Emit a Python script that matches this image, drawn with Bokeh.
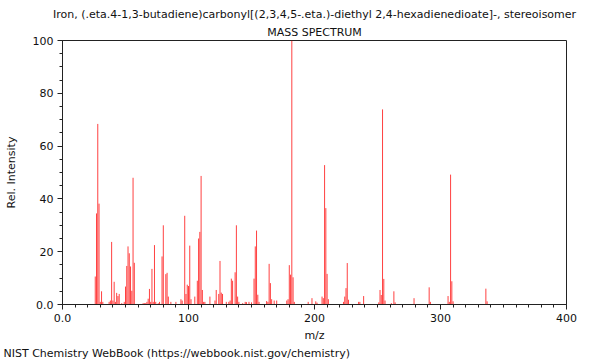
from bokeh.plotting import figure
from bokeh.models import Range1d, FixedTicker, Title
from bokeh.embed import file_html
from bokeh.resources import INLINE

mz = [26, 27, 28, 29, 30, 31, 32, 37, 38, 39, 40, 41, 42, 43, 44, 45, 47, 49, 50, 51,
      52, 53, 54, 55, 56, 57, 64, 65, 66, 67, 68, 69, 70, 71, 72, 73, 74, 76, 77, 79,
      80, 82, 83, 84, 86, 90, 94, 95, 97, 98, 99, 100, 101, 102, 105, 107, 108, 109, 110, 111,
      112, 113, 117, 121, 122, 124, 125, 126, 127, 130, 132, 133, 134, 135, 137, 138, 139, 140, 143, 145,
      146, 148, 150, 152, 153, 154, 155, 156, 162, 163, 164, 165, 166, 168, 170, 178, 179, 180, 181, 182,
      183, 184, 195, 198, 201, 202, 206, 207, 208, 209, 210, 211, 223, 224, 225, 226, 227, 235, 236, 239,
      251, 252, 253, 254, 255, 256, 261, 263, 264, 279, 291, 292, 306, 307, 308, 309, 310, 336, 337]
intensity = [10.6, 34.5, 68.4, 38.2, 1.0, 5.0, 1.0, 1.0, 1.5, 23.7, 1.5, 8.6, 1.0, 4.4, 3.2, 4.0, 0.5, 1.0, 6.8, 14.6,
             22.0, 19.4, 14.4, 5.2, 48.0, 15.8, 0.5, 0.5, 0.5, 1.0, 2.2, 5.9, 1.0, 13.5, 1.0, 22.5, 1.0, 0.5, 1.0, 18.2,
             30.0, 11.5, 12.0, 3.0, 1.0, 1.0, 2.0, 1.5, 33.6, 4.0, 7.5, 7.0, 22.3, 2.0, 3.0, 9.0, 25.0, 27.5, 48.7, 5.5,
             1.0, 1.0, 3.0, 1.5, 5.5, 4.0, 16.5, 4.5, 4.0, 1.0, 1.0, 1.5, 9.8, 9.0, 12.2, 30.0, 3.0, 1.0, 0.5, 1.0,
             0.9, 1.0, 0.8, 9.8, 22.0, 28.0, 3.7, 1.0, 1.3, 1.0, 15.4, 8.1, 2.0, 1.5, 1.5, 1.5, 2.0, 14.9, 11.3, 100.0,
             10.3, 1.0, 1.0, 2.4, 1.2, 0.7, 3.0, 2.4, 52.8, 36.5, 11.6, 2.0, 1.0, 3.0, 6.2, 15.7, 1.8, 1.0, 1.0, 3.2,
             0.8, 5.5, 3.6, 73.9, 9.7, 1.5, 0.5, 5.0, 0.8, 2.4, 6.5, 1.0, 3.2, 1.0, 49.2, 8.8, 1.2, 6.0, 1.2]

x_ticks = [0, 100, 200, 300, 400]
x_tick_labels = ["0.0", "100", "200", "300", "400"]
y_ticks = [0, 20, 40, 60, 80, 100]
y_tick_labels = ["0.0", "20", "40", "60", "80", "100"]
x_minor = list(range(0, 401, 10))
y_minor = list(range(0, 101, 5))

title_main = "Iron, (.eta.4-1,3-butadiene)carbonyl[(2,3,4,5-.eta.)-diethyl 2,4-hexadienedioate]-, stereoisomer"
subtitle = "MASS SPECTRUM"
footer = "NIST Chemistry WebBook (https://webbook.nist.gov/chemistry)"
x_label = "m/z"
y_label = "Rel. Intensity"

FONT = "DejaVu Sans"

p = figure(width=600, height=360, output_backend="svg", toolbar_location=None,
           x_range=Range1d(0, 400), y_range=Range1d(0, 100), title=None,
           min_border_left=62, min_border_right=34, min_border_top=40, min_border_bottom=56)

p.segment(x0=mz, y0=[0] * len(mz), x1=mz, y1=intensity,
          line_color="#ff0000", line_alpha=0.75, line_width=1)

p.xgrid.visible = False
p.ygrid.visible = False
p.outline_line_color = "#222222"
p.outline_line_alpha = 1
p.background_fill_color = "white"
p.border_fill_color = "white"

p.xaxis.ticker = FixedTicker(ticks=x_ticks, minor_ticks=x_minor)
p.yaxis.ticker = FixedTicker(ticks=y_ticks, minor_ticks=y_minor)
p.xaxis.major_label_overrides = {t: l for t, l in zip(x_ticks, x_tick_labels)}
p.yaxis.major_label_overrides = {t: l for t, l in zip(y_ticks, y_tick_labels)}

for ax in (p.xaxis, p.yaxis):
    ax.axis_line_color = "#222222"
    ax.major_tick_line_color = "#222222"
    ax.minor_tick_line_color = "#222222"
    ax.major_tick_in = 0
    ax.major_tick_out = 5
    ax.minor_tick_in = 0
    ax.minor_tick_out = 3
    ax.major_label_text_font = FONT
    ax.major_label_text_font_size = "11px"
    ax.major_label_text_color = "#111111"
    ax.axis_label_text_font = FONT
    ax.axis_label_text_font_size = "11px"
    ax.axis_label_text_font_style = "normal"
    ax.axis_label_text_color = "#111111"
    ax.major_label_standoff = 4

p.xaxis.axis_label = x_label
p.yaxis.axis_label = y_label
p.xaxis.axis_label_standoff = 4
p.yaxis.axis_label_standoff = 12


def make_title(text, align, offset=0, standoff=2):
    return Title(text=text, align=align, offset=offset, standoff=standoff,
                 text_font=FONT, text_font_size="11px", text_font_style="normal",
                 text_color="#111111")


p.add_layout(make_title(subtitle, "center", standoff=3), "above")
p.add_layout(make_title(title_main, "center", standoff=3), "above")
p.add_layout(make_title(footer, "left", offset=-59, standoff=1), "below")

open("out.html", "w").write(file_html(p, INLINE))
